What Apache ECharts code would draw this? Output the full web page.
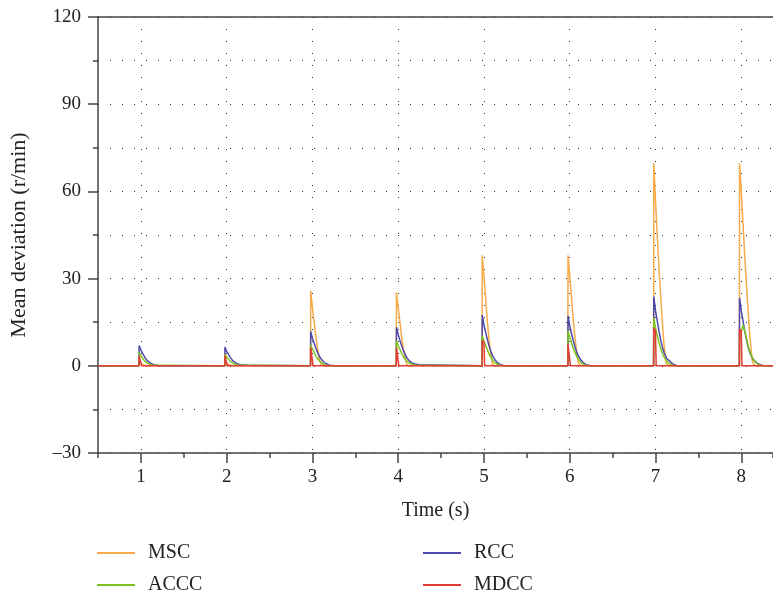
<!DOCTYPE html>
<html>
<head>
<meta charset="utf-8">
<script src="https://cdn.jsdelivr.net/npm/echarts@6/dist/echarts.min.js"></script>
<style>
  html, body { margin: 0; padding: 0; background: #fff; }
  #chartLine { width: 773px; height: 596px; }
</style>
</head>
<body>
<div id="chartLine"></div>
<script>
// pulse start times (s) and sample offsets after each pulse (s)
const pulseTimes = [1, 2, 3, 4, 5, 6, 7, 8];
const offsets = [-0.022, -0.02, 0.0, 0.02, 0.04, 0.06, 0.08, 0.1, 0.13, 0.16, 0.2, 0.25];
const spikeOffsets = [-0.022, -0.02, 0.0, 0.008];

// values, one row per pulse, on the offsets above
const mscPulses = [
  [0, 1.5, 1, 0.5, 0.2, 0, 0, 0, 0, 0, 0, 0],
  [0, 1.5, 1, 0.5, 0.2, 0, 0, 0, 0, 0, 0, 0],
  [0, 25.8, 20, 15, 10, 6, 2.5, 0.3, 0, 0, 0, 0],
  [0, 25.2, 20, 15, 10, 6, 3, 0.5, 0, 0, 0, 0],
  [0, 38, 31, 23, 15, 9, 4, 0.5, 0, 0, 0, 0],
  [0, 38, 31, 24, 16, 10, 5, 1, 0, 0, 0, 0],
  [0, 69.7, 57, 45, 34, 24, 15, 7, 0.5, 0, 0, 0],
  [0, 69.7, 60, 49, 38, 28, 19, 10, 1.5, 0, 0, 0]
];
const rccPulses = [
  [0, 7, 5.5, 4.3, 3.2, 2.3, 1.6, 1.1, 0.6, 0.3, 0.1, 0],
  [0, 6.5, 5, 4, 3, 2.2, 1.5, 1, 0.6, 0.4, 0.3, 0.2],
  [0, 11.8, 9.5, 7.8, 6.1, 4.6, 3.4, 2.4, 1.4, 0.7, 0.2, 0],
  [0, 13.3, 10.8, 8.8, 7, 5.3, 4, 2.8, 1.7, 1, 0.6, 0.4],
  [0, 17.5, 14, 11.5, 9, 6.8, 5, 3.5, 2, 1, 0.3, 0],
  [0, 17.2, 13.8, 11.2, 8.8, 6.6, 4.8, 3.4, 2, 1, 0.3, 0],
  [0, 23.8, 19, 15.5, 12, 9, 6.5, 4.5, 2.5, 1.8, 0.6, 0],
  [0, 23.4, 19, 15.5, 12, 9, 6.5, 4.5, 2.6, 1.5, 0.6, 0.1]
];
const acccPulses = [
  [0, 4.5, 3.5, 2.6, 1.8, 1.2, 0.8, 0.5, 0.3, 0.2, 0.2, 0.2],
  [0, 4, 3, 2.3, 1.6, 1.1, 0.7, 0.5, 0.3, 0.2, 0.2, 0.2],
  [0, 7.2, 5.8, 4.6, 3.5, 2.5, 1.7, 1.1, 0.5, 0.2, 0, 0],
  [0, 8.5, 7, 5.6, 4.3, 3.2, 2.3, 1.6, 0.9, 0.5, 0.3, 0.2],
  [0, 10.3, 8.5, 7, 5.5, 4, 2.9, 2, 1, 0.4, 0.1, 0],
  [0, 12, 9.8, 8, 6.2, 4.6, 3.3, 2.3, 1.2, 0.5, 0.1, 0],
  [0, 16.5, 13, 10.5, 8, 6, 4.3, 3, 1.6, 0.8, 0.2, 0],
  [0, 9, 11.5, 14, 12, 9.5, 7, 5, 2.8, 1.4, 0.4, 0]
];
const mdccPulses = [
  [0, 3.5, 3.2, 0],
  [0, 3.5, 3.2, 0],
  [0, 6.3, 5.8, 0],
  [0, 6.2, 5.8, 0],
  [0, 8.7, 8, 0],
  [0, 7.5, 7, 0],
  [0, 13, 12, 0],
  [0, 12.7, 12, 0]
];

const xStart = 0.5;
const xEnd = 8.37;
const xTicks = [1, 2, 3, 4, 5, 6, 7, 8];

function buildLine(pulses, dts) {
  const pts = [[xStart, 0]];
  pulseTimes.forEach(function (t0, i) {
    pulses[i].forEach(function (v, j) {
      pts.push([+(t0 + dts[j]).toFixed(3), v]);
    });
  });
  pts.push([xEnd, 0]);
  return pts;
}

const font = "'Liberation Serif', 'DejaVu Serif', serif";
const axisColor = "#444";
const dotted = {color: "#333", width: 1, type: [1, 11]};
const legendText = {fontFamily: font, fontSize: 20, color: "#222", lineHeight: 20, padding: [0, 0, 0, 8]};

const chartLine = echarts.init(document.getElementById("chartLine"));

const options = {
  animation: false,
  grid: {left: 97, right: 0, top: 17, bottom: 143},
  legend: [
    {
      data: ["MSC", "ACCC"],
      orient: "vertical",
      left: 97, top: 543, padding: 0,
      icon: "rect", itemWidth: 38, itemHeight: 2, itemGap: 12,
      textStyle: legendText
    },
    {
      data: ["RCC", "MDCC"],
      orient: "vertical",
      left: 423, top: 543, padding: 0,
      icon: "rect", itemWidth: 38, itemHeight: 2, itemGap: 12,
      textStyle: legendText
    }
  ],
  xAxis: [
    {
      type: "value",
      min: xStart, max: xEnd,
      splitNumber: 8,
      name: "Time (s)",
      nameLocation: "middle",
      nameGap: 48,
      nameTextStyle: {fontFamily: font, fontSize: 20, color: "#222"},
      axisLine: {show: true, onZero: false, lineStyle: {color: axisColor, width: 1.5}},
      axisTick: {show: true, length: 10, customValues: xTicks, lineStyle: {color: axisColor, width: 1.5}},
      axisLabel: {fontFamily: font, fontSize: 19, color: "#222", margin: 15, customValues: xTicks},
      splitLine: {show: true, lineStyle: dotted}
    },
    {
      // half-second minor ticks, counted from min
      type: "value",
      min: xStart, max: xEnd,
      interval: 1,
      position: "bottom",
      axisLine: {show: false, onZero: false},
      axisTick: {show: true, length: 5, lineStyle: {color: axisColor, width: 1.5}},
      axisLabel: {show: false},
      splitLine: {show: false}
    },
    {
      // top frame line
      type: "value",
      min: xStart, max: xEnd,
      position: "top",
      axisLine: {show: true, onZero: false, lineStyle: {color: axisColor, width: 1.5}},
      axisTick: {show: false},
      axisLabel: {show: false},
      splitLine: {show: false}
    }
  ],
  yAxis: {
    type: "value",
    min: -30, max: 120, interval: 30,
    name: "Mean deviation (r/min)",
    nameLocation: "middle",
    nameGap: 68,
    nameTextStyle: {fontFamily: font, fontSize: 22, color: "#222"},
    axisLine: {show: true, lineStyle: {color: axisColor, width: 1.5}},
    axisTick: {show: true, length: 10, lineStyle: {color: axisColor, width: 1.5}},
    minorTick: {show: true, splitNumber: 2, length: 5, lineStyle: {color: axisColor, width: 1.5}},
    axisLabel: {
      fontFamily: font, fontSize: 19, color: "#222", margin: 17,
      formatter: function (v) { return v < 0 ? "\u2013" + Math.abs(v) : String(v); }
    },
    splitLine: {show: true, lineStyle: dotted},
    minorSplitLine: {show: true, lineStyle: dotted}
  },
  series: [
    {name: "MSC", type: "line", symbol: "none", color: "#f7aa48",
      lineStyle: {width: 1.5}, data: buildLine(mscPulses, offsets)},
    {name: "RCC", type: "line", symbol: "none", color: "#4e4aab",
      lineStyle: {width: 1.5}, data: buildLine(rccPulses, offsets)},
    {name: "ACCC", type: "line", symbol: "none", color: "#7cc420",
      lineStyle: {width: 1.5}, data: buildLine(acccPulses, offsets)},
    {name: "MDCC", type: "line", symbol: "none", color: "#e43b36",
      lineStyle: {width: 1.5}, data: buildLine(mdccPulses, spikeOffsets)}
  ]
};

chartLine.setOption(options, true);
</script>
</body>
</html>
